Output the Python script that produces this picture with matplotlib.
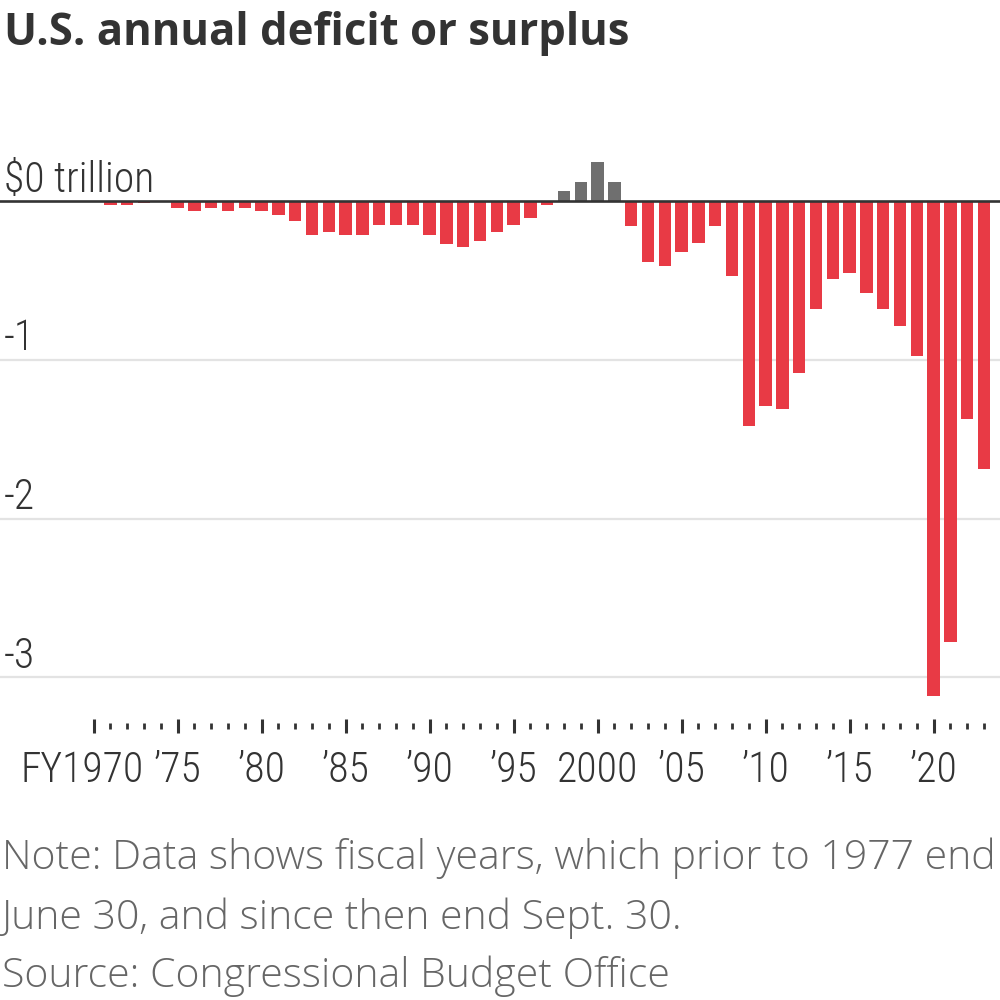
import numpy as np
import matplotlib
matplotlib.use("Agg")
from matplotlib import pyplot as plt

plt.rcParams['font.family'] = ['Roboto Condensed', 'DejaVu Sans']

# fiscal years and deficit (-) / surplus (+) in trillions of dollars
years = np.arange(1970, 2024)
balance = [
    -0.003, -0.022, -0.022, -0.012, -0.005,          # 1970-74
    -0.040, -0.060, -0.040, -0.060, -0.040,          # 1975-79
    -0.060, -0.085, -0.125, -0.210, -0.190,          # 1980-84
    -0.210, -0.210, -0.147, -0.147, -0.147,          # 1985-89
    -0.210, -0.270, -0.290, -0.250, -0.190,          # 1990-94
    -0.147, -0.105, -0.022, 0.065, 0.120,            # 1995-99
    0.250, 0.120, -0.155, -0.385, -0.410,            # 2000-04
    -0.320, -0.260, -0.155, -0.470, -1.416,          # 2005-09
    -1.290, -1.310, -1.080, -0.680, -0.490,          # 2010-14
    -0.450, -0.575, -0.680, -0.785, -0.975,          # 2015-19
    -3.120, -2.780, -1.375, -1.690,                  # 2020-23
]
tick_labels = ["FY1970", "\u201975", "\u201980", "\u201985", "\u201990", "\u201995",
               "2000", "\u201905", "\u201910", "\u201915", "\u201920"]
y_ticks = [0, -1, -2, -3]
y_labels = ["$0 trillion", "-1", "-2", "-3"]

red = "#e83a45"
grey = "#6f6f6f"
dark = "#333333"

fig = plt.figure(figsize=(10, 10), dpi=100)
ax = fig.add_axes([0, 0.212, 1, 0.688])
ax.set_xlim(1964.43, 2023.95)
ax.set_ylim(-3.7, 0.64)
ax.axis('off')

# gridlines
for v in y_ticks[1:]:
    ax.axhline(v, color="#e3e3e3", lw=1.6, zorder=0)

colors = [grey if b > 0 else red for b in balance]
ax.bar(years, balance, width=0.74, color=colors, zorder=2)
ax.axhline(0, color=dark, lw=1.9, zorder=3)

# y labels sit on top of their lines
for v, lab in zip(y_ticks, y_labels):
    ax.text(0.004, v + 0.06, lab, transform=ax.get_yaxis_transform(),
            ha='left', va='baseline', fontsize=30, color=dark, fontweight='light')

# x ticks drawn under the plot
major = years[years % 5 == 0]
minor = years[years % 5 != 0]
ax.vlines(major, -3.356, -3.262, color=dark, lw=2.2)
ax.vlines(minor, -3.325, -3.293, color=dark, lw=2.0)
for yr, lab in zip(major, tick_labels):
    off = -8 if lab.startswith("FY") else 0
    ax.annotate(lab, xy=(yr, -3.662), xytext=(off, 0), textcoords='offset points',
                ha='center', va='baseline', fontsize=30, color=dark,
                fontweight='light', annotation_clip=False)

fig.text(0.004, 1 - 45 / 1000, "U.S. annual deficit or surplus", fontsize=31.4,
         family=['Open Sans', 'DejaVu Sans'], fontweight='bold', color=dark,
         ha='left', va='baseline')

note = ["Note: Data shows fiscal years, which prior to 1977 end",
        "June 30, and since then end Sept. 30.",
        "Source: Congressional Budget Office"]
for line, base in zip(note, [869, 929, 987]):
    fig.text(0.002, 1 - base / 1000, line, fontsize=29.5, color="#666666",
             family=['Open Sans', 'DejaVu Sans'], fontweight='light',
             ha='left', va='baseline')

fig.savefig("out.png", dpi=100)
